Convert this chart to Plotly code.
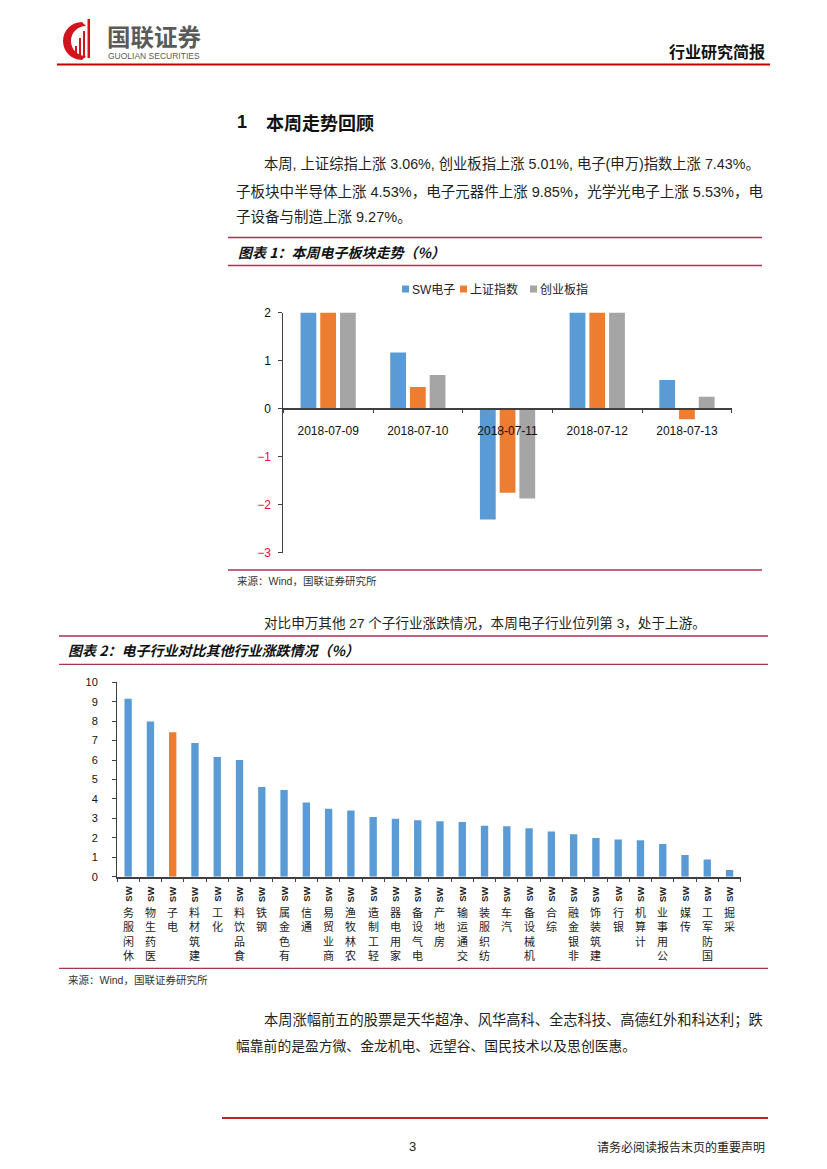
import plotly.graph_objects as go

# ---------------- data ----------------
dates = ["2018-07-09", "2018-07-10", "2018-07-11", "2018-07-12", "2018-07-13"]
series_names = ["SW电子", "上证指数", "创业板指"]
sw_elec = [3.8, 1.17, -2.31, 4.1, 0.60]
sh_index = [2.47, 0.45, -1.75, 2.18, -0.22]
cyb_index = [2.8, 0.70, -1.87, 3.1, 0.25]
series_colors = ["#5B9BD5", "#ED7D31", "#A5A5A5"]
y1_ticks = [-3, -2, -1, 0, 1, 2]

industries = ["休闲服务SW", "医药生物SW", "电子SW", "建筑材料SW", "化工SW", "食品饮料SW",
              "钢铁SW", "有色金属SW", "通信SW", "商业贸易SW", "农林牧渔SW", "轻工制造SW",
              "家用电器SW", "电气设备SW", "房地产SW", "交通运输SW", "纺织服装SW", "汽车SW",
              "机械设备SW", "综合SW", "非银金融SW", "建筑装饰SW", "银行SW", "计算机SW",
              "公用事业SW", "传媒SW", "国防军工SW", "采掘SW"]
changes = [9.16, 7.98, 7.43, 6.88, 6.16, 6.00, 4.61, 4.46, 3.82, 3.50, 3.40, 3.07,
           2.98, 2.90, 2.85, 2.81, 2.62, 2.59, 2.49, 2.32, 2.18, 1.99, 1.92, 1.87,
           1.68, 1.11, 0.89, 0.34]
highlight = "电子SW"

# ---------------- helpers ----------------
W, H = 827, 1169


def fx(x):
    return x / W


def fy(y):
    return 1 - y / H


LAT = "Liberation Sans, Arial, Noto Sans CJK SC"
CJK = "Noto Sans CJK SC, Liberation Sans"
annotations = []
shapes = []


def text(x, y, s, size=14, anchor="left", color="#231F20", family=LAT, **kw):
    annotations.append(dict(x=fx(x), y=fy(y), xref="paper", yref="paper", text=s,
                            showarrow=False, xanchor=anchor, yanchor="middle",
                            font=dict(size=size, color=color, family=family), **kw))


def hline(x0, x1, y, color, width):
    shapes.append(dict(type="line", xref="paper", yref="paper", x0=fx(x0), x1=fx(x1),
                       y0=fy(y), y1=fy(y), line=dict(color=color, width=width)))


def rect(x0, y0, x1, y1, color):
    shapes.append(dict(type="rect", xref="paper", yref="paper", x0=fx(x0), x1=fx(x1),
                       y0=fy(y0), y1=fy(y1), fillcolor=color, line=dict(width=0)))


fig = go.Figure()

# ---------------- chart 1 ----------------
for name, vals, col in zip(series_names, [sw_elec, sh_index, cyb_index], series_colors):
    fig.add_trace(go.Bar(x=dates, y=vals, name=name, marker=dict(color=col, line=dict(width=0)),
                         xaxis="x", yaxis="y", showlegend=False))

# ---------------- chart 2 ----------------
bar_colors = ["#ED7D31" if c == highlight else "#5B9BD5" for c in industries]
fig.add_trace(go.Bar(x=industries, y=changes, marker=dict(color=bar_colors, line=dict(width=0)),
                     width=0.33, xaxis="x2", yaxis="y2", showlegend=False))

axis_col = "#404040"

# ---------------- page header ----------------
logo_red = "#D2141E"
k = 0.5523
cx, cy, r = 82, 41, 19
icx, icy, ir = 86, 41, 15


def P(x, y):
    return f"{fx(x):.5f},{fy(y):.5f}"


path = (f"M{P(cx, cy - r)} C{P(cx - k * r, cy - r)} {P(cx - r, cy - k * r)} {P(cx - r, cy)} "
        f"C{P(cx - r, cy + k * r)} {P(cx - k * r, cy + r)} {P(cx, cy + r)} "
        f"L{P(icx, icy + ir)} "
        f"C{P(icx - k * ir, icy + ir)} {P(icx - ir, icy + k * ir)} {P(icx - ir, icy)} "
        f"C{P(icx - ir, icy - k * ir)} {P(icx - k * ir, icy - ir)} {P(icx, icy - ir)} Z")
shapes.append(dict(type="path", xref="paper", yref="paper", path=path,
                   fillcolor=logo_red, line=dict(width=0)))
rect(75, 46, 77, 58, logo_red)
rect(79, 38, 81, 58, logo_red)
rect(83, 31, 85, 58, logo_red)
rect(87.5, 19, 90, 58, logo_red)

text(105, 36, "<b>国联证券</b>", size=23.5, color="#5A5A5A", family=CJK)
text(106, 56, "GUOLIAN SECURITIES", size=8.5, color="#5A5A5A")
text(767, 51, "<b>行业研究简报</b>", size=16, anchor="right", color="#111111", family=CJK)
hline(57, 770, 64.5, "#C00000", 2)

# ---------------- section 1 text ----------------
text(235, 122, "<b>1</b>", size=18, color="#111111")
text(264, 122, "<b>本周走势回顾</b>", size=18, color="#111111", family=CJK)
text(262, 164, "本周, 上证综指上涨 3.06%, 创业板指上涨 5.01%, 电子(申万)指数上涨 7.43%。", size=14.3)
text(234, 191, "子板块中半导体上涨 4.53%，电子元器件上涨 9.85%，光学光电子上涨 5.53%，电", size=14.5)
text(234, 217, "子设备与制造上涨 9.27%。", size=14.5)

# chart 1 frame
hline(228, 762, 237.5, "#A8344E", 1.3)
text(236, 252, "<b><i>图表 1：本周电子板块走势（%）</i></b>", size=14, color="#111111", family=CJK)
hline(228, 762, 265.5, "#A8344E", 1.3)
hline(228, 762, 570, "#A8344E", 1.3)
text(235, 581, "来源：Wind，国联证券研究所", size=10.5, color="#333333")

# manual legend for chart 1
legend_x = [402, 460, 530]
for lx, name, col in zip(legend_x, series_names, series_colors):
    rect(lx, 285.5, lx + 7, 292.5, col)
    text(lx + 8, 289.5, name, size=12, color="#222222")

# ---------------- section 2 text ----------------
text(262, 623, "对比申万其他 27 个子行业涨跌情况，本周电子行业位列第 3，处于上游。", size=13.6)
hline(59, 768, 636, "#A8344E", 1.3)
text(66, 650, "<b><i>图表 2：电子行业对比其他行业涨跌情况（%）</i></b>", size=14, color="#111111", family=CJK)
hline(59, 768, 664.3, "#A8344E", 1.3)
hline(59, 768, 968.3, "#A8344E", 1.3)
text(66, 979.5, "来源：Wind，国联证券研究所", size=10.5, color="#333333")

# vertical category labels for chart 2
for name in industries:
    base = name[:-2]
    annotations.append(dict(x=name, xref="x2", y=fy(894.5), yref="paper", text="<b>SW</b>",
                            textangle=-90, showarrow=False, xanchor="center", yanchor="middle",
                            font=dict(size=9.5, color="#222222", family=LAT)))
    annotations.append(dict(x=name, xref="x2", y=fy(901.5), yref="paper",
                            text="<br>".join(reversed(list(base))),
                            showarrow=False, xanchor="center", yanchor="top",
                            font=dict(size=11, color="#222222", family=CJK)))

text(262, 1020, "本周涨幅前五的股票是天华超净、风华高科、全志科技、高德红外和科达利；跌", size=14.25)
text(234, 1046, "幅靠前的是盈方微、金龙机电、远望谷、国民技术以及思创医惠。", size=13.8)

# footer
hline(222, 768, 1118, "#C0202A", 2)
text(412, 1146, "3", size=13, anchor="center", color="#222222")
text(767, 1146, "请务必阅读报告末页的重要声明", size=12, anchor="right", color="#222222", family=CJK)

# negative tick labels in red, as in the source chart
y1_text = [f'<span style="color:#E8112D">\u2212{abs(v)}</span>' if v < 0 else str(v)
           for v in y1_ticks]

fig.update_layout(
    width=W, height=H, autosize=False,
    margin=dict(l=0, r=0, t=0, b=0, pad=0, autoexpand=False),
    paper_bgcolor="white", plot_bgcolor="white",
    barmode="group", bargap=0.34, bargroupgap=0.2,
    showlegend=False,
    font=dict(family=LAT, color="#222222"),
    xaxis=dict(domain=[fx(283.3), fx(731.8)], anchor="free", position=fy(408.7),
               type="category", showline=True, linecolor=axis_col, linewidth=1.5,
               ticks="outside", tickson="boundaries", ticklen=4, tickcolor=axis_col,
               tickfont=dict(size=12, color="#111111"), ticklabelstandoff=11,
               showgrid=False, zeroline=False, fixedrange=True, automargin=False),
    yaxis=dict(domain=[fy(552.7), fy(312.7)], anchor="x", range=[min(y1_ticks), max(y1_ticks)],
               tickvals=y1_ticks, ticktext=y1_text, showline=True, linecolor=axis_col,
               linewidth=1, ticks="outside", ticklen=4, tickcolor=axis_col,
               tickfont=dict(size=12, color="#111111"), ticklabelstandoff=5,
               showgrid=False, zeroline=False, fixedrange=True, automargin=False),
    xaxis2=dict(domain=[fx(117), fx(740.7)], anchor="y2", type="category",
                showline=True, linecolor=axis_col, linewidth=1.5,
                ticks="outside", tickson="boundaries", ticklen=4, tickcolor=axis_col,
                showticklabels=False, showgrid=False, zeroline=False, fixedrange=True,
                automargin=False),
    yaxis2=dict(domain=[fy(876.7), fy(682.3)], anchor="x2", range=[0, 10], dtick=1,
                showline=True, linecolor=axis_col, linewidth=1, ticks="outside", ticklen=4,
                tickcolor=axis_col, tickfont=dict(size=11, color="#111111"),
                ticklabelstandoff=12, showgrid=False, zeroline=False, fixedrange=True,
                automargin=False),
    annotations=annotations,
    shapes=shapes,
)

fig.write_html("out.html", config={"displayModeBar": False},
               post_script="document.body.style.margin='0';document.body.style.padding='0';")
